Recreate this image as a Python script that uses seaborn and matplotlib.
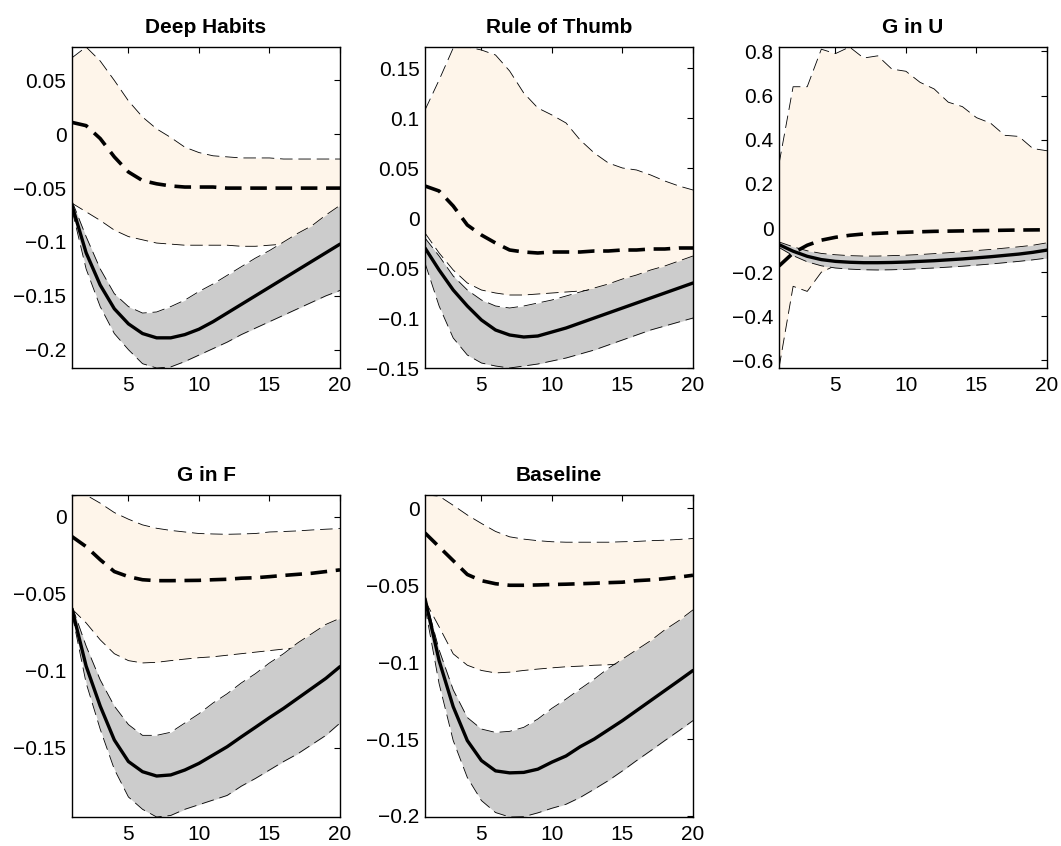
import matplotlib
matplotlib.use("Agg")
import matplotlib.pyplot as plt
import seaborn as sns
from matplotlib.ticker import FuncFormatter, MultipleLocator

# ---------------- data ----------------
horizon = list(range(1, 21))
titles = ["Deep Habits", "Rule of Thumb", "G in U", "G in F", "Baseline"]

# Deep Habits
dh_solid = [-0.066, -0.110, -0.140, -0.162, -0.176, -0.185, -0.189, -0.189, -0.186, -0.181,
            -0.174, -0.166, -0.158, -0.150, -0.142, -0.134, -0.126, -0.118, -0.110, -0.102]
dh_solid_hi = [-0.062, -0.095, -0.125, -0.148, -0.160, -0.166, -0.165, -0.160, -0.154, -0.146,
               -0.139, -0.131, -0.123, -0.115, -0.108, -0.100, -0.092, -0.085, -0.075, -0.066]
dh_solid_lo = [-0.070, -0.125, -0.160, -0.185, -0.200, -0.213, -0.217, -0.216, -0.211, -0.205,
               -0.199, -0.193, -0.186, -0.180, -0.174, -0.168, -0.162, -0.156, -0.150, -0.145]
dh_dash = [0.011, 0.008, -0.004, -0.021, -0.035, -0.043, -0.046, -0.048, -0.049, -0.049,
           -0.049, -0.050, -0.050, -0.050, -0.050, -0.050, -0.050, -0.050, -0.050, -0.050]
dh_dash_hi = [0.071, 0.081, 0.068, 0.050, 0.031, 0.016, 0.005, -0.003, -0.012, -0.017,
              -0.020, -0.021, -0.022, -0.022, -0.022, -0.023, -0.023, -0.023, -0.023, -0.023]
dh_dash_lo = [-0.064, -0.072, -0.080, -0.089, -0.095, -0.098, -0.101, -0.102, -0.103, -0.103,
              -0.103, -0.103, -0.104, -0.104, -0.103, -0.102, -0.102, -0.101, -0.100, -0.100]

# Rule of Thumb
rt_solid = [-0.030, -0.052, -0.072, -0.088, -0.102, -0.112, -0.117, -0.119, -0.118, -0.114,
            -0.110, -0.105, -0.100, -0.095, -0.090, -0.085, -0.080, -0.075, -0.070, -0.065]
rt_solid_hi = [-0.020, -0.038, -0.058, -0.072, -0.082, -0.088, -0.090, -0.088, -0.085, -0.082,
               -0.078, -0.074, -0.070, -0.066, -0.061, -0.057, -0.052, -0.048, -0.043, -0.038]
rt_solid_lo = [-0.045, -0.088, -0.120, -0.137, -0.145, -0.148, -0.150, -0.148, -0.146, -0.143,
               -0.140, -0.136, -0.132, -0.127, -0.122, -0.117, -0.112, -0.108, -0.104, -0.100]
rt_dash = [0.032, 0.027, 0.012, -0.007, -0.017, -0.025, -0.032, -0.034, -0.035, -0.034,
           -0.034, -0.034, -0.033, -0.033, -0.032, -0.032, -0.031, -0.031, -0.030, -0.030]
rt_dash_hi = [0.108, 0.138, 0.170, 0.171, 0.168, 0.163, 0.147, 0.125, 0.110, 0.103,
              0.095, 0.078, 0.065, 0.055, 0.050, 0.048, 0.043, 0.037, 0.032, 0.028]
rt_dash_lo = [-0.015, -0.035, -0.052, -0.065, -0.072, -0.075, -0.077, -0.077, -0.076, -0.075,
              -0.074, -0.073, -0.072, -0.070, -0.068, -0.066, -0.064, -0.062, -0.060, -0.058]

# G in U
gu_solid = [-0.075, -0.105, -0.128, -0.143, -0.151, -0.155, -0.157, -0.157, -0.156, -0.154,
            -0.151, -0.148, -0.144, -0.140, -0.135, -0.130, -0.124, -0.118, -0.110, -0.100]
gu_solid_hi = [-0.063, -0.085, -0.103, -0.115, -0.121, -0.125, -0.127, -0.127, -0.125, -0.123,
               -0.120, -0.116, -0.112, -0.107, -0.102, -0.097, -0.091, -0.085, -0.078, -0.067]
gu_solid_lo = [-0.088, -0.125, -0.153, -0.171, -0.181, -0.186, -0.189, -0.190, -0.189, -0.187,
               -0.184, -0.181, -0.177, -0.173, -0.168, -0.163, -0.157, -0.151, -0.144, -0.136]
gu_dash = [-0.172, -0.113, -0.078, -0.055, -0.042, -0.033, -0.027, -0.024, -0.021, -0.019,
           -0.017, -0.015, -0.014, -0.013, -0.012, -0.011, -0.010, -0.009, -0.0085, -0.008]
gu_dash_hi = [0.29, 0.64, 0.64, 0.81, 0.79, 0.82, 0.77, 0.78, 0.72, 0.71,
              0.66, 0.63, 0.57, 0.55, 0.50, 0.475, 0.42, 0.415, 0.36, 0.35]
gu_dash_lo = [-0.634, -0.264, -0.287, -0.20, -0.17, -0.16, -0.155, -0.15, -0.148, -0.145,
              -0.142, -0.139, -0.135, -0.131, -0.127, -0.122, -0.117, -0.111, -0.104, -0.095]

# G in F
gf_solid = [-0.060, -0.097, -0.123, -0.145, -0.159, -0.1656, -0.1684, -0.1677, -0.1645, -0.1602,
            -0.1548, -0.1494, -0.143, -0.1368, -0.1305, -0.1245, -0.118, -0.1115, -0.105, -0.0974]
gf_solid_hi = [-0.058, -0.084, -0.106, -0.123, -0.135, -0.142, -0.142, -0.140, -0.134, -0.128,
               -0.121, -0.115, -0.108, -0.102, -0.095, -0.089, -0.082, -0.076, -0.070, -0.066]
gf_solid_lo = [-0.063, -0.108, -0.138, -0.164, -0.182, -0.190, -0.195, -0.194, -0.190, -0.187,
               -0.184, -0.181, -0.175, -0.170, -0.1645, -0.159, -0.154, -0.148, -0.142, -0.134]
gf_dash = [-0.013, -0.0195, -0.028, -0.0357, -0.039, -0.041, -0.0416, -0.0416, -0.0415, -0.0414,
           -0.041, -0.0407, -0.040, -0.0397, -0.039, -0.0382, -0.0375, -0.0368, -0.0357, -0.0346]
gf_dash_hi = [0.0134, 0.014, 0.0087, 0.0026, -0.0017, -0.0054, -0.0076, -0.009, -0.010, -0.011,
              -0.0113, -0.0115, -0.0113, -0.011, -0.010, -0.0097, -0.0093, -0.0087, -0.0082, -0.0078]
gf_dash_lo = [-0.060, -0.069, -0.080, -0.089, -0.0935, -0.095, -0.0946, -0.0935, -0.0925, -0.0916,
              -0.091, -0.090, -0.089, -0.088, -0.087, -0.086, -0.085, -0.084, -0.083, -0.082]

# Baseline
bl_solid = [-0.0587, -0.099, -0.129, -0.151, -0.164, -0.1707, -0.172, -0.1717, -0.1696, -0.165,
            -0.161, -0.155, -0.150, -0.144, -0.138, -0.1315, -0.125, -0.1185, -0.112, -0.1054]
bl_solid_hi = [-0.0576, -0.092, -0.118, -0.136, -0.1435, -0.1457, -0.145, -0.1424, -0.137, -0.130,
               -0.124, -0.1174, -0.111, -0.104, -0.098, -0.092, -0.086, -0.079, -0.073, -0.066]
bl_solid_lo = [-0.064, -0.114, -0.151, -0.175, -0.190, -0.1978, -0.2007, -0.2005, -0.198, -0.195,
               -0.1924, -0.188, -0.1826, -0.177, -0.1707, -0.164, -0.1576, -0.151, -0.1446, -0.138]
bl_dash = [-0.016, -0.025, -0.034, -0.043, -0.047, -0.049, -0.050, -0.050, -0.0498, -0.0495,
           -0.0493, -0.049, -0.0487, -0.0483, -0.048, -0.047, -0.0465, -0.0457, -0.0447, -0.0435]
bl_dash_hi = [0.0087, 0.008, 0.002, -0.0043, -0.0098, -0.015, -0.0185, -0.020, -0.021, -0.0217,
              -0.022, -0.022, -0.022, -0.022, -0.0217, -0.0215, -0.021, -0.0207, -0.0202, -0.0196]
bl_dash_lo = [-0.060, -0.077, -0.0946, -0.102, -0.1054, -0.107, -0.1065, -0.1054, -0.1045, -0.1037,
              -0.103, -0.1026, -0.102, -0.1017, -0.101, -0.1005, -0.100, -0.0995, -0.099, -0.0985]

panels = [
    (dh_solid, dh_solid_lo, dh_solid_hi, dh_dash, dh_dash_lo, dh_dash_hi, 0.05),
    (rt_solid, rt_solid_lo, rt_solid_hi, rt_dash, rt_dash_lo, rt_dash_hi, 0.05),
    (gu_solid, gu_solid_lo, gu_solid_hi, gu_dash, gu_dash_lo, gu_dash_hi, 0.2),
    (gf_solid, gf_solid_lo, gf_solid_hi, gf_dash, gf_dash_lo, gf_dash_hi, 0.05),
    (bl_solid, bl_solid_lo, bl_solid_hi, bl_dash, bl_dash_lo, bl_dash_hi, 0.05),
]

# ---------------- style ----------------
sns.set_theme(style="white")
plt.rcParams["font.family"] = ["Liberation Sans", "DejaVu Sans"]
plt.rcParams["text.color"] = "black"

BEIGE = "#FEF5EA"
GRAY = "#CCCCCC"

fig = plt.figure(figsize=(10.61, 8.46), dpi=100)

lefts = [72, 425, 779]
width_px = 268
rows = [(47, 368), (495, 817)]
W, H = 1061, 846


def fmt(v, pos):
    v = round(v, 6)
    if abs(v) < 1e-9:
        return "0"
    return f"{v:g}".replace("-", "\u2212")


edge_kw = dict(color="black", linewidth=0.6, linestyle=(0, (15, 7)))

for i, (title, p) in enumerate(zip(titles, panels)):
    r, c = divmod(i, 3)
    top, bot = rows[r]
    ax = fig.add_axes([lefts[c] / W, 1 - bot / H, width_px / W, (bot - top) / H])
    solid, s_lo, s_hi, dash, d_lo, d_hi, step = p

    ax.fill_between(horizon, d_lo, d_hi, color=BEIGE, linewidth=0, zorder=1)
    sns.lineplot(x=horizon, y=d_hi, ax=ax, errorbar=None, zorder=1.5, **edge_kw)
    sns.lineplot(x=horizon, y=d_lo, ax=ax, errorbar=None, zorder=1.5, **edge_kw)
    ax.fill_between(horizon, s_lo, s_hi, color=GRAY, linewidth=0, zorder=2)
    sns.lineplot(x=horizon, y=s_hi, ax=ax, errorbar=None, zorder=2.5, **edge_kw)
    sns.lineplot(x=horizon, y=s_lo, ax=ax, errorbar=None, zorder=2.5, **edge_kw)
    sns.lineplot(x=horizon, y=dash, ax=ax, errorbar=None, color="black",
                 linewidth=2.6, linestyle=(0, (4.6, 2.4)), zorder=3)
    sns.lineplot(x=horizon, y=solid, ax=ax, errorbar=None, color="black",
                 linewidth=2.4, zorder=4)

    allv = solid + s_lo + s_hi + dash + d_lo + d_hi
    ax.set_xlim(1, 20)
    ax.set_ylim(min(allv), max(allv))
    ax.xaxis.set_major_locator(MultipleLocator(5))
    ax.yaxis.set_major_locator(MultipleLocator(step))
    ax.yaxis.set_major_formatter(FuncFormatter(fmt))
    ax.xaxis.set_major_formatter(FuncFormatter(fmt))
    ax.tick_params(axis="both", which="major", direction="in", top=True, right=True,
                   length=4, width=0.8, color="black", labelsize=15, labelcolor="black")
    ax.tick_params(axis="y", pad=4)
    ax.tick_params(axis="x", pad=6)
    for sp in ax.spines.values():
        sp.set_visible(True)
        sp.set_color("black")
        sp.set_linewidth(1.0)
    ax.set_xlabel("")
    ax.set_ylabel("")
    ax.set_title(title, fontsize=15, fontweight="bold", pad=10, color="black")

fig.savefig("out.png", dpi=100, facecolor="white")
